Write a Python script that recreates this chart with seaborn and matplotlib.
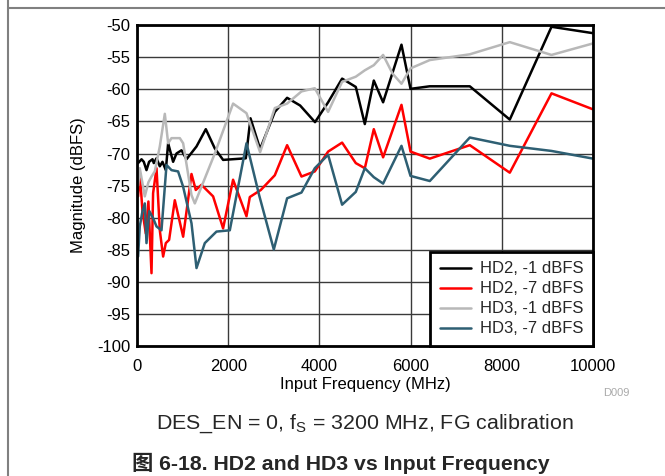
import matplotlib
matplotlib.use("Agg")
import matplotlib.pyplot as plt
import seaborn as sns
import pandas as pd
from matplotlib.lines import Line2D

# ---- data ----
hd2_m1_f = [24, 99, 149, 208, 265, 340, 368, 428, 500, 559, 632, 683, 792, 866, 976, 1086, 1305, 1509,
            1706, 1888, 2386, 2489, 2700, 3022, 3292, 3577, 3904, 4191, 4498, 4798, 4996, 5193, 5397,
            5800, 5998, 6417, 7298, 8175, 9090, 10000]
hd2_m1_v = [-71.5, -70.9, -71.3, -72.6, -71.3, -70.9, -71.5, -70.75, -72.0, -71.3, -72.6, -68.4, -71.3,
            -70.0, -69.5, -70.9, -68.9, -66.2, -69.2, -71.0, -70.75, -64.5, -69.3, -63.5, -61.3, -62.5,
            -65.1, -62.0, -58.3, -59.6, -65.4, -58.6, -62.0, -53.0, -59.9, -59.5, -59.5, -64.7, -50.2, -51.2]

hd2_m7_f = [24, 61, 120, 193, 250, 318, 353, 428, 500, 573, 632, 704, 829, 1012, 1195, 1289, 1414,
            1669, 1888, 2107, 2401, 2474, 2715, 3022, 3292, 3607, 3899, 4191, 4498, 4798, 4996, 5193,
            5397, 5800, 5998, 6421, 7298, 8175, 9090, 10000]
hd2_m7_v = [-76.7, -73.0, -79.0, -82.5, -77.5, -88.7, -76.2, -72.3, -82.0, -86.1, -84.0, -83.5, -77.3,
            -83.0, -73.2, -75.7, -74.9, -76.7, -81.7, -74.1, -79.8, -76.8, -75.7, -73.4, -68.7, -73.6,
            -72.8, -69.7, -68.3, -71.5, -72.3, -66.2, -70.6, -62.4, -69.7, -70.8, -68.7, -73.0, -60.6, -63.1]

hd3_m1_f = [24, 61, 171, 250, 318, 390, 500, 610, 683, 756, 939, 1012, 1195, 1268, 1706, 2107, 2401,
            2700, 3022, 3292, 3607, 3899, 4191, 4498, 4798, 4996, 5193, 5397, 5603, 5800, 5998, 6421,
            7298, 8175, 9090, 10000]
hd3_m1_v = [-75.0, -72.3, -76.7, -74.5, -73.6, -72.8, -68.9, -63.8, -68.4, -67.6, -67.6, -68.4, -76.5,
            -77.8, -70.0, -62.2, -63.7, -69.8, -62.9, -62.2, -60.3, -59.8, -63.5, -58.8, -58.0, -57.0,
            -56.2, -54.6, -57.5, -59.1, -56.7, -55.4, -54.5, -52.6, -54.6, -52.8]

hd3_m7_f = [24, 61, 120, 171, 208, 270, 353, 428, 537, 647, 757, 901, 1012, 1195, 1305, 1487, 1743,
            2035, 2401, 2678, 3000, 3292, 3607, 3899, 4191, 4498, 4798, 4996, 5193, 5397, 5800, 5998,
            6421, 7298, 8175, 9090, 10000]
hd3_m7_v = [-86.1, -81.4, -79.0, -77.8, -84.0, -79.0, -80.1, -81.4, -82.0, -71.8, -72.6, -72.8, -75.2,
            -80.9, -87.9, -84.0, -82.2, -82.0, -68.4, -76.5, -85.0, -77.0, -76.1, -72.3, -70.2, -78.0,
            -76.0, -72.3, -73.7, -74.7, -68.8, -73.5, -74.3, -67.5, -68.8, -69.6, -70.8]

series_names = ["HD2, -1 dBFS", "HD2, -7 dBFS", "HD3, -1 dBFS", "HD3, -7 dBFS"]
colors = ["#000000", "#ff0000", "#b8b8b8", "#2e5f73"]

x_ticks = [0, 2000, 4000, 6000, 8000, 10000]
y_ticks = [-100, -95, -90, -85, -80, -75, -70, -65, -60, -55, -50]

frames = []
for name, f, v in zip(series_names,
                      [hd2_m1_f, hd2_m7_f, hd3_m1_f, hd3_m7_f],
                      [hd2_m1_v, hd2_m7_v, hd3_m1_v, hd3_m7_v]):
    frames.append(pd.DataFrame({"Input Frequency (MHz)": f, "Magnitude (dBFS)": v, "series": name}))
df = pd.concat(frames, ignore_index=True)

sns.set_theme(style="white")
plt.rcParams["font.family"] = ["Liberation Sans", "Noto Sans CJK SC", "DejaVu Sans"]
plt.rcParams["mathtext.default"] = "regular"

fig = plt.figure(figsize=(6.65, 4.76), dpi=100)
ax = fig.add_axes([137 / 665, 1 - 345.5 / 476, (593 - 137) / 665, (345.5 - 25.5) / 476])

sns.lineplot(data=df, x="Input Frequency (MHz)", y="Magnitude (dBFS)", hue="series",
             hue_order=series_names, palette=colors, sort=False, estimator=None,
             linewidth=1.8, ax=ax, legend=False)

ax.set_xlim(0, 10000)
ax.set_ylim(-100, -50)
ax.set_xticks(x_ticks)
ax.set_yticks(y_ticks)
ax.set_xticklabels([str(t) for t in x_ticks], fontsize=12)
ax.set_yticklabels([str(t) for t in y_ticks], fontsize=12)
ax.tick_params(axis="both", length=0, colors="black")
ax.tick_params(axis="y", pad=5)
ax.tick_params(axis="x", pad=10)
ax.grid(True, color="#3a3a3a", linewidth=1.0)
for s in ax.spines.values():
    s.set_color("black")
    s.set_linewidth(2.0)
ax.set_xlabel("Input Frequency (MHz)", fontsize=12, labelpad=2, color="black")
ax.set_ylabel("Magnitude (dBFS)", fontsize=12, labelpad=8, color="black")

handles = [Line2D([0], [0], color=c, linewidth=1.8) for c in colors]
leg = ax.legend(handles, series_names, loc="lower right", fontsize=12, frameon=True,
                fancybox=False, borderaxespad=0, handlelength=1.9, handletextpad=0.55,
                labelspacing=0.3, borderpad=0.55)
leg.get_frame().set_edgecolor("black")
leg.get_frame().set_linewidth(2.0)
leg.get_frame().set_alpha(1)

fig.text(603 / 665, 1 - 393 / 476, "D009", fontsize=8, color="#aaaaaa", ha="left", va="center")
fig.text(365 / 665, 1 - 424 / 476, "DES_EN = 0, f$_S$ = 3200 MHz, FG calibration",
         fontsize=15.4, ha="center", va="center")
fig.text(341 / 665, 1 - 463 / 476, "图 6-18. HD2 and HD3 vs Input Frequency",
         fontsize=15.3, fontweight="bold", ha="center", va="center",
         family=["Liberation Sans", "Noto Sans CJK SC"])

fig.add_artist(Line2D([8 / 665, 1], [1 - 8 / 476, 1 - 8 / 476], color="#808080", linewidth=1.5,
                      transform=fig.transFigure))
fig.add_artist(Line2D([8 / 665, 8 / 665], [0, 1], color="#808080", linewidth=1.5,
                      transform=fig.transFigure))

fig.savefig("out.png", dpi=100)
